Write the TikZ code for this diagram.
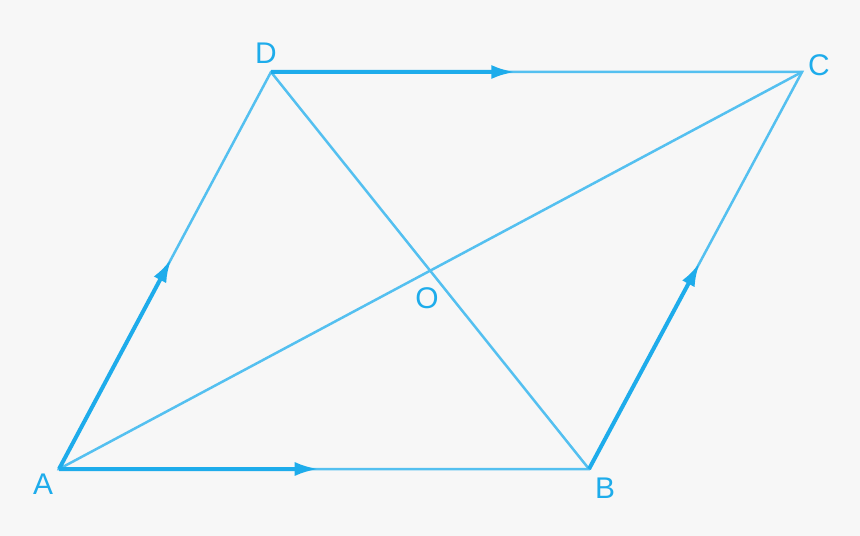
\documentclass[tikz,border=0pt]{standalone}
\usepackage{fontspec}
\setmainfont{Liberation Sans}
\usetikzlibrary{arrows.meta,calc}
\definecolor{skyline}{RGB}{84,192,240}
\definecolor{skyarrow}{RGB}{30,172,235}
\definecolor{paper}{RGB}{247,247,247}
\begin{document}
\begin{tikzpicture}[x=1bp,y=-1bp,
    side/.style={draw=skyline,line width=2.5bp},
    vec/.style={draw=skyarrow,line width=4bp,-{Latex[length=24bp,width=14bp]}},
    lbl/.style={text=skyarrow,font=\fontsize{30}{30}\selectfont,inner sep=0pt}]
    % Background
    \fill[paper] (0,0) rectangle (860,536);

    % Parallelogram coordinates
    \coordinate (A) at (59,469);
    \coordinate (B) at (589,469);
    \coordinate (C) at (802,72);
    \coordinate (D) at (271,72);
    \coordinate (O) at ($(A)!0.5!(C)$);

    % Arrow tips along the sides
    \coordinate (tAB) at ($(A)!0.49!(B)$);
    \coordinate (tDC) at ($(D)!0.46!(C)$);
    \coordinate (tAD) at ($(A)!0.53!(D)$);
    \coordinate (tBC) at ($(B)!0.52!(C)$);

    % Sides and diagonals
    \draw[side] (A) -- (B) -- (C) -- (D) -- cycle;
    \draw[side] (A) -- (C);
    \draw[side] (B) -- (D);

    % Vectors
    \draw[vec] (A) -- (tAB);
    \draw[vec] (D) -- (tDC);
    \draw[vec] (A) -- (tAD);
    \draw[vec] (B) -- (tBC);

    % Labels
    \node[lbl] (lA) at (43,484) {A};
    \node[lbl] (lB) at (605,488) {B};
    \node[lbl] (lC) at (819,65) {C};
    \node[lbl] (lD) at (266,53) {D};
    \node[lbl] (lO) at (427,298) {O};

\end{tikzpicture}
\end{document}
